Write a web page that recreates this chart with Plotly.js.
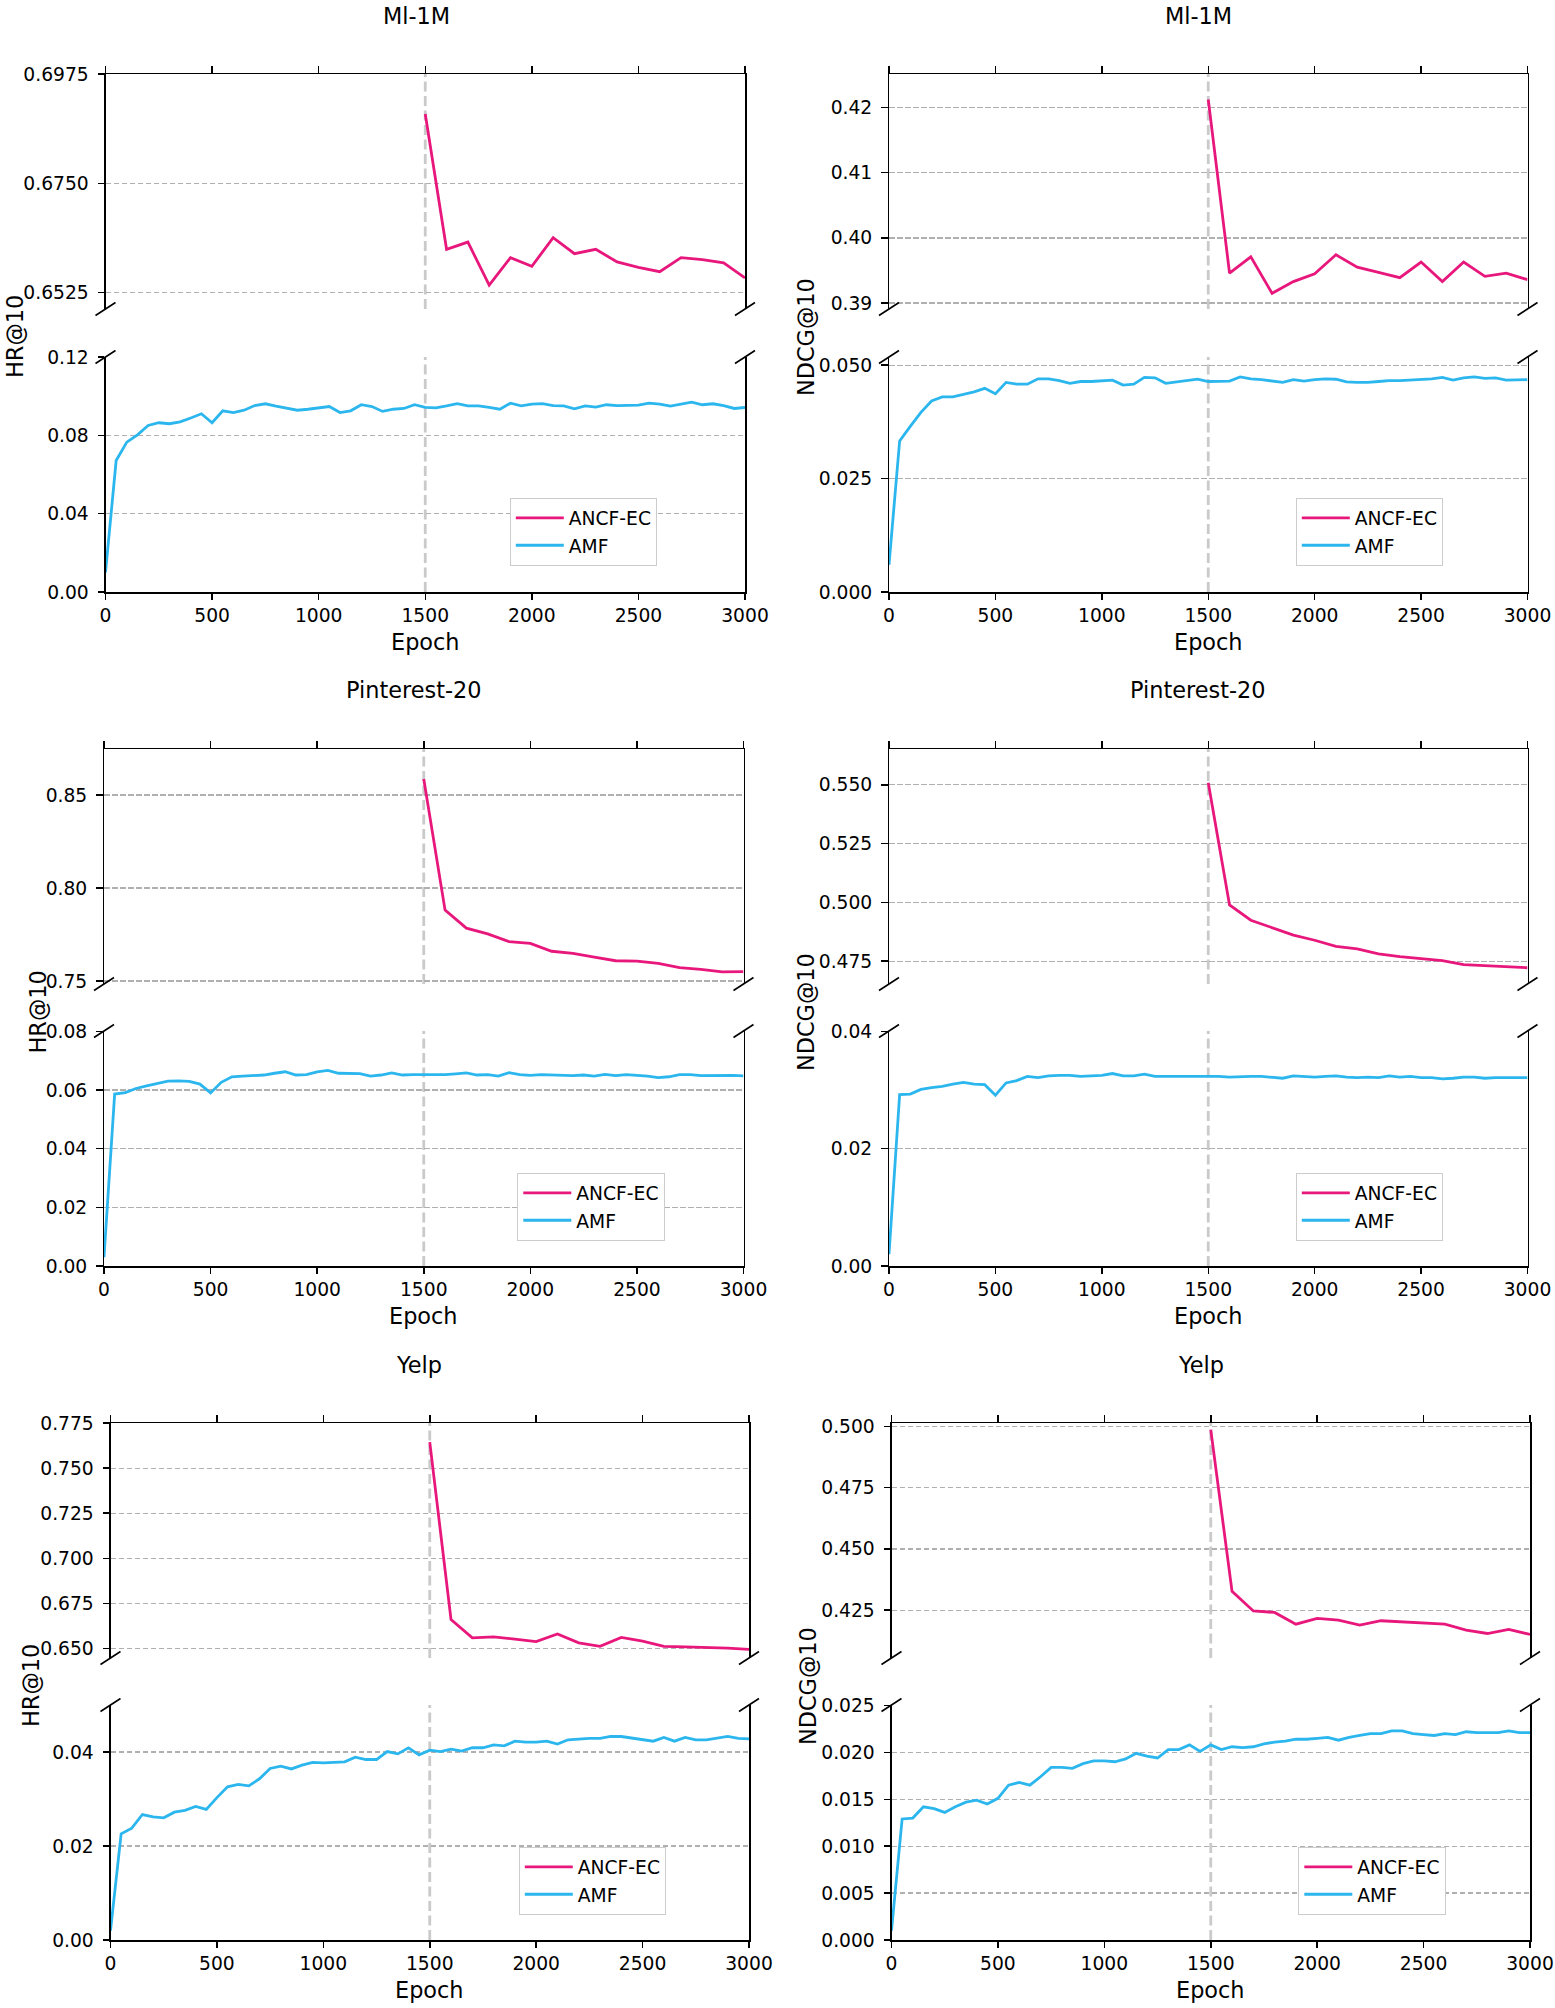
<!DOCTYPE html>
<html>
<head>
<meta charset="utf-8">
<script src="https://cdn.plot.ly/plotly-3.0.1.min.js"></script>
<style>html,body{margin:0;padding:0;background:#fff;}#chart{width:1555px;height:2008px;}</style>
</head>
<body>
<div id="chart"></div>
<script>
// ---------------- DATA ----------------
const amfEpochs = [0,50,100,150,200,250,300,350,400,450,500,550,600,650,700,750,800,850,900,950,1000,1050,1100,1150,1200,1250,1300,1350,1400,1450,1500,1550,1600,1650,1700,1750,1800,1850,1900,1950,2000,2050,2100,2150,2200,2250,2300,2350,2400,2450,2500,2550,2600,2650,2700,2750,2800,2850,2900,2950,3000];
const ancfEpochs = [1500,1600,1700,1800,1900,2000,2100,2200,2300,2400,2500,2600,2700,2800,2900,3000];
const xTicks = [0,500,1000,1500,2000,2500,3000];
const xTickText = ["0","500","1000","1500","2000","2500","3000"];

const datasets = ["Ml-1M","Pinterest-20","Yelp"];
const metrics = ["HR@10","NDCG@10"];
const seriesNames = ["ANCF-EC","AMF"];

// Ml-1M
const hrMl1mAncf = [0.6893,0.6614,0.6629,0.6540,0.6597,0.6579,0.6638,0.6605,0.6614,0.6588,0.6577,0.6568,0.6597,0.6593,0.6586,0.6555];
const hrMl1mAmf = [0.010,0.0672,0.0766,0.0803,0.0851,0.0865,0.0860,0.0870,0.0889,0.0911,0.0865,0.0926,0.0917,0.0929,0.0953,0.0962,0.0950,0.0938,0.0929,0.0934,0.0940,0.0948,0.0917,0.0926,0.0957,0.0948,0.0923,0.0934,0.0938,0.0957,0.0943,0.0941,0.0951,0.0963,0.0951,0.0951,0.0943,0.0934,0.0965,0.0951,0.0960,0.0963,0.0953,0.0951,0.0936,0.0951,0.0945,0.0957,0.0953,0.0955,0.0955,0.0965,0.0960,0.0950,0.0960,0.0970,0.0957,0.0962,0.0953,0.0938,0.0943];
const ndcgMl1mAncf = [0.4212,0.3946,0.3971,0.3915,0.3933,0.3945,0.3974,0.3955,0.3947,0.3939,0.3963,0.3933,0.3963,0.3941,0.3946,0.3936];
const ndcgMl1mAmf = [0.006,0.0333,0.0365,0.0396,0.0421,0.0430,0.0430,0.0435,0.0441,0.0449,0.0437,0.0462,0.0458,0.0458,0.0470,0.0470,0.0466,0.0460,0.0464,0.0464,0.0465,0.0467,0.0456,0.0458,0.0473,0.0472,0.0460,0.0463,0.0467,0.0469,0.0464,0.0464,0.0465,0.0474,0.0470,0.0468,0.0465,0.0462,0.0468,0.0465,0.0468,0.0470,0.0469,0.0463,0.0462,0.0462,0.0464,0.0466,0.0466,0.0467,0.0468,0.0470,0.0473,0.0467,0.0472,0.0474,0.0471,0.0472,0.0467,0.0467,0.0468];
// Pinterest-20
const hrPinAncf = [0.8586,0.7881,0.7784,0.7753,0.7712,0.7702,0.7660,0.7649,0.7628,0.7609,0.7607,0.7595,0.7572,0.7563,0.7549,0.7551];
const hrPinAmf = [0.003,0.0586,0.0591,0.0605,0.0614,0.0621,0.0630,0.0631,0.0629,0.0620,0.0590,0.0626,0.0645,0.0647,0.0648,0.0651,0.0657,0.0662,0.0651,0.0652,0.0662,0.0667,0.0657,0.0656,0.0656,0.0647,0.0651,0.0658,0.0651,0.0652,0.0652,0.0653,0.0652,0.0655,0.0658,0.0651,0.0652,0.0647,0.0659,0.0652,0.0650,0.0652,0.0651,0.0650,0.0649,0.0651,0.0647,0.0653,0.0649,0.0652,0.0650,0.0647,0.0642,0.0645,0.0652,0.0652,0.0649,0.0650,0.0650,0.0650,0.0648];
const ndcgPinAncf = [0.5509,0.4989,0.4924,0.4893,0.4861,0.4839,0.4813,0.4802,0.4781,0.4769,0.4761,0.4752,0.4735,0.4731,0.4724,0.4722];
const ndcgPinAmf = [0.002,0.0292,0.0293,0.0301,0.0304,0.0306,0.0310,0.0313,0.0310,0.0309,0.0291,0.0312,0.0316,0.0323,0.0321,0.0324,0.0325,0.0325,0.0323,0.0324,0.0325,0.0328,0.0324,0.0324,0.0327,0.0323,0.0323,0.0324,0.0323,0.0324,0.0324,0.0323,0.0322,0.0323,0.0323,0.0323,0.0322,0.0320,0.0324,0.0323,0.0322,0.0323,0.0324,0.0322,0.0321,0.0322,0.0321,0.0324,0.0322,0.0323,0.0321,0.0321,0.0319,0.0320,0.0322,0.0322,0.0320,0.0321,0.0321,0.0321,0.0321];
// Yelp
const hrYelpAncf = [0.7644,0.6660,0.6559,0.6564,0.6552,0.6538,0.6580,0.6531,0.6512,0.6561,0.6540,0.6512,0.6509,0.6507,0.6502,0.6495];
const hrYelpAmf = [0.002,0.0226,0.0238,0.0267,0.0262,0.0260,0.0272,0.0276,0.0284,0.0278,0.0303,0.0326,0.0331,0.0328,0.0343,0.0365,0.0370,0.0364,0.0372,0.0378,0.0377,0.0378,0.0379,0.0389,0.0384,0.0384,0.0401,0.0396,0.0409,0.0394,0.0404,0.0401,0.0406,0.0402,0.0409,0.0409,0.0415,0.0413,0.0423,0.0421,0.0421,0.0423,0.0417,0.0426,0.0428,0.0429,0.0429,0.0433,0.0433,0.0430,0.0427,0.0423,0.0431,0.0423,0.0431,0.0426,0.0426,0.0429,0.0433,0.0429,0.0428];
const ndcgYelpAncf = [0.4987,0.4327,0.4247,0.4241,0.4193,0.4217,0.4210,0.4189,0.4207,0.4202,0.4200,0.4193,0.4169,0.4155,0.4172,0.4151];
const ndcgYelpAmf = [0.001,0.0129,0.0130,0.0142,0.0140,0.0136,0.0142,0.0147,0.0149,0.0145,0.0151,0.0165,0.0168,0.0165,0.0174,0.0184,0.0184,0.0183,0.0188,0.0191,0.0191,0.0190,0.0193,0.0199,0.0196,0.0194,0.0203,0.0203,0.0208,0.0201,0.0208,0.0203,0.0206,0.0205,0.0206,0.0209,0.0211,0.0212,0.0214,0.0214,0.0215,0.0216,0.0213,0.0216,0.0218,0.0220,0.0220,0.0223,0.0223,0.0220,0.0219,0.0218,0.0220,0.0219,0.0222,0.0221,0.0221,0.0221,0.0223,0.0221,0.0221];

// y tick values / labels
const p1TopTicks = [0.6525,0.6750,0.6975], p1TopText = ["0.6525","0.6750","0.6975"];
const p1BotTicks = [0,0.04,0.08,0.12], p1BotText = ["0.00","0.04","0.08","0.12"];
const p2TopTicks = [0.39,0.40,0.41,0.42], p2TopText = ["0.39","0.40","0.41","0.42"];
const p2BotTicks = [0,0.025,0.05], p2BotText = ["0.000","0.025","0.050"];
const p3TopTicks = [0.75,0.80,0.85], p3TopText = ["0.75","0.80","0.85"];
const p3BotTicks = [0,0.02,0.04,0.06,0.08], p3BotText = ["0.00","0.02","0.04","0.06","0.08"];
const p4TopTicks = [0.475,0.5,0.525,0.55], p4TopText = ["0.475","0.500","0.525","0.550"];
const p4BotTicks = [0,0.02,0.04], p4BotText = ["0.00","0.02","0.04"];
const p5TopTicks = [0.65,0.675,0.7,0.725,0.75,0.775], p5TopText = ["0.650","0.675","0.700","0.725","0.750","0.775"];
const p5BotTicks = [0,0.02,0.04], p5BotText = ["0.00","0.02","0.04"];
const p6TopTicks = [0.425,0.45,0.475,0.5], p6TopText = ["0.425","0.450","0.475","0.500"];
const p6BotTicks = [0,0.005,0.01,0.015,0.02,0.025], p6BotText = ["0.000","0.005","0.010","0.015","0.020","0.025"];

// ---------------- LAYOUT / STYLE ----------------
const W = 1555, H = 2008;
const PINK = '#e8177c', BLUE = '#2cb6ee';
const FONT = 'DejaVu Sans, sans-serif';
const TICKFS = 18.7, LABELFS = 22.4;
const px = v => v / W, py = v => 1 - v / H;

const panels = [
  {ds:0, m:0, anc:hrMl1mAncf, amf:hrMl1mAmf, xd:[105.5,745], top:[74,309], bot:[357,592], yrT:[0.6491,0.69755], yrB:[0,0.1201], tT:p1TopTicks, tTx:p1TopText, tB:p1BotTicks, tBx:p1BotText, title:[416,16], ylab:[15,337], ep:642, leg:[657.5,566]},
  {ds:0, m:1, anc:ndcgMl1mAncf, amf:ndcgMl1mAmf, xd:[889,1527.5], top:[74,309], bot:[357,592], yrT:[0.3891,0.4251], yrB:[0,0.0518], tT:p2TopTicks, tTx:p2TopText, tB:p2BotTicks, tBx:p2BotText, title:[1198,16], ylab:[806,337], ep:642, leg:[1443.5,566]},
  {ds:1, m:0, anc:hrPinAncf, amf:hrPinAmf, xd:[104,743.5], top:[749,984], bot:[1031,1266], yrT:[0.7484,0.8747], yrB:[0,0.0801], tT:p3TopTicks, tTx:p3TopText, tB:p3BotTicks, tBx:p3BotText, title:[413,689.5], ylab:[37.5,1012], ep:1316, leg:[665,1241]},
  {ds:1, m:1, anc:ndcgPinAncf, amf:ndcgPinAmf, xd:[889,1527.5], top:[749,984], bot:[1031,1266], yrT:[0.4653,0.5652], yrB:[0,0.04005], tT:p4TopTicks, tTx:p4TopText, tB:p4BotTicks, tBx:p4BotText, title:[1197.5,689.5], ylab:[806,1012], ep:1316, leg:[1443.5,1241]},
  {ds:2, m:0, anc:hrYelpAncf, amf:hrYelpAmf, xd:[110.5,749], top:[1423,1658], bot:[1705,1940], yrT:[0.6447,0.77505], yrB:[0,0.05], tT:p5TopTicks, tTx:p5TopText, tB:p5BotTicks, tBx:p5BotText, title:[419,1364.5], ylab:[31,1686], ep:1990, leg:[666.5,1915]},
  {ds:2, m:1, anc:ndcgYelpAncf, amf:ndcgYelpAmf, xd:[891.5,1530], top:[1423,1658], bot:[1705,1940], yrT:[0.4055,0.5014], yrB:[0,0.02505], tT:p6TopTicks, tTx:p6TopText, tB:p6BotTicks, tBx:p6BotText, title:[1200.5,1364.5], ylab:[808,1686], ep:1990, leg:[1446,1915]}
];

const traces = [];
const layout = {
  width: W, height: H,
  margin: {l:0, r:0, t:0, b:0},
  paper_bgcolor: '#ffffff', plot_bgcolor: '#ffffff',
  font: {family: FONT, color: '#000000', size: TICKFS},
  showlegend: true,
  shapes: [], annotations: []
};

function yAxis(domainPx, range, tv, tt) {
  return {
    domain: [py(domainPx[1]), py(domainPx[0])], range: range, autorange: false,
    showline: true, mirror: true, linecolor: '#000', linewidth: 1.5,
    ticks: 'outside', ticklen: 6.5, tickwidth: 1.5, tickcolor: '#000',
    tickvals: tv, ticktext: tt, ticklabelstandoff: 5,
    tickfont: {family: FONT, size: TICKFS, color: '#000'},
    showgrid: true, gridcolor: '#b0b0b0', gridwidth: 1.3, griddash: '5.5px,2.5px',
    zeroline: false, fixedrange: true
  };
}
function xAxis(domainPx, side, labels) {
  return {
    domain: [px(domainPx[0]), px(domainPx[1])], range: [0, 3000], autorange: false,
    side: side, showline: true, mirror: false, linecolor: '#000', linewidth: 1.5,
    ticks: 'outside', ticklen: 6.5, tickwidth: 1.5, tickcolor: '#000',
    tickvals: xTicks, ticktext: xTickText, showticklabels: labels,
    tickfont: {family: FONT, size: TICKFS, color: '#000'},
    showgrid: false, zeroline: false, fixedrange: true
  };
}

panels.forEach((p, k) => {
  const iT = 2*k + 1, iB = 2*k + 2;
  const xT = 'x' + iT, yT = 'y' + iT, xB = 'x' + iB, yB = 'y' + iB;
  const legName = k === 0 ? 'legend' : 'legend' + (k + 1);
  const ax = (n) => n === 1 ? '' : String(n);

  layout['xaxis' + ax(iT)] = Object.assign(xAxis(p.xd, 'top', false), {anchor: yT});
  layout['yaxis' + ax(iT)] = Object.assign(yAxis(p.top, p.yrT, p.tT, p.tTx), {anchor: xT});
  layout['xaxis' + iB] = Object.assign(xAxis(p.xd, 'bottom', true), {anchor: yB});
  layout['yaxis' + iB] = Object.assign(yAxis(p.bot, p.yrB, p.tB, p.tBx), {anchor: xB});

  traces.push({type: 'scatter', mode: 'lines', x: ancfEpochs, y: p.anc, xaxis: xT, yaxis: yT,
    name: seriesNames[0], legend: legName, line: {color: PINK, width: 2.8}, hoverinfo: 'skip'});
  traces.push({type: 'scatter', mode: 'lines', x: amfEpochs, y: p.amf, xaxis: xB, yaxis: yB,
    name: seriesNames[1], legend: legName, line: {color: BLUE, width: 2.8}, hoverinfo: 'skip'});

  layout[legName] = {
    x: px(p.leg[0]), y: py(p.leg[1]), xanchor: 'right', yanchor: 'bottom',
    bgcolor: '#ffffff', bordercolor: '#cccccc', borderwidth: 1.3,
    font: {family: FONT, size: TICKFS, color: '#000'},
    tracegroupgap: 0, itemwidth: 48
  };

  // vertical dashed marker at epoch 1500 in both halves
  [[xT, yT], [xB, yB]].forEach(([xa, ya]) => {
    layout.shapes.push({type: 'line', xref: xa, yref: ya + ' domain', x0: 1500, x1: 1500, y0: 0, y1: 1,
      line: {color: '#cacaca', width: 2.8, dash: '10px,4.5px'}, layer: 'below'});
  });

  // broken-axis diagonal marks
  const dx = 10, dy = 6.5;
  [[p.xd[0], p.top[1]], [p.xd[1], p.top[1]], [p.xd[0], p.bot[0]], [p.xd[1], p.bot[0]]].forEach(([cx, cy]) => {
    layout.shapes.push({type: 'line', xref: 'paper', yref: 'paper',
      x0: px(cx - dx), y0: py(cy + dy), x1: px(cx + dx), y1: py(cy - dy),
      line: {color: '#000', width: 1.6}});
  });

  // title
  layout.annotations.push({xref: 'paper', yref: 'paper', x: px(p.title[0]), y: py(p.title[1]),
    xanchor: 'center', yanchor: 'middle', showarrow: false, text: datasets[p.ds],
    font: {family: FONT, size: LABELFS, color: '#000'}});
  // y label
  layout.annotations.push({xref: 'paper', yref: 'paper', x: px(p.ylab[0]), y: py(p.ylab[1]),
    xanchor: 'center', yanchor: 'middle', showarrow: false, text: metrics[p.m], textangle: -90,
    font: {family: FONT, size: LABELFS, color: '#000'}});
  // x label
  layout.annotations.push({xref: 'paper', yref: 'paper', x: px((p.xd[0] + p.xd[1]) / 2), y: py(p.ep),
    xanchor: 'center', yanchor: 'middle', showarrow: false, text: 'Epoch',
    font: {family: FONT, size: LABELFS, color: '#000'}});
});

Plotly.newPlot('chart', traces, layout, {staticPlot: true, displayModeBar: false});
</script>
</body>
</html>
